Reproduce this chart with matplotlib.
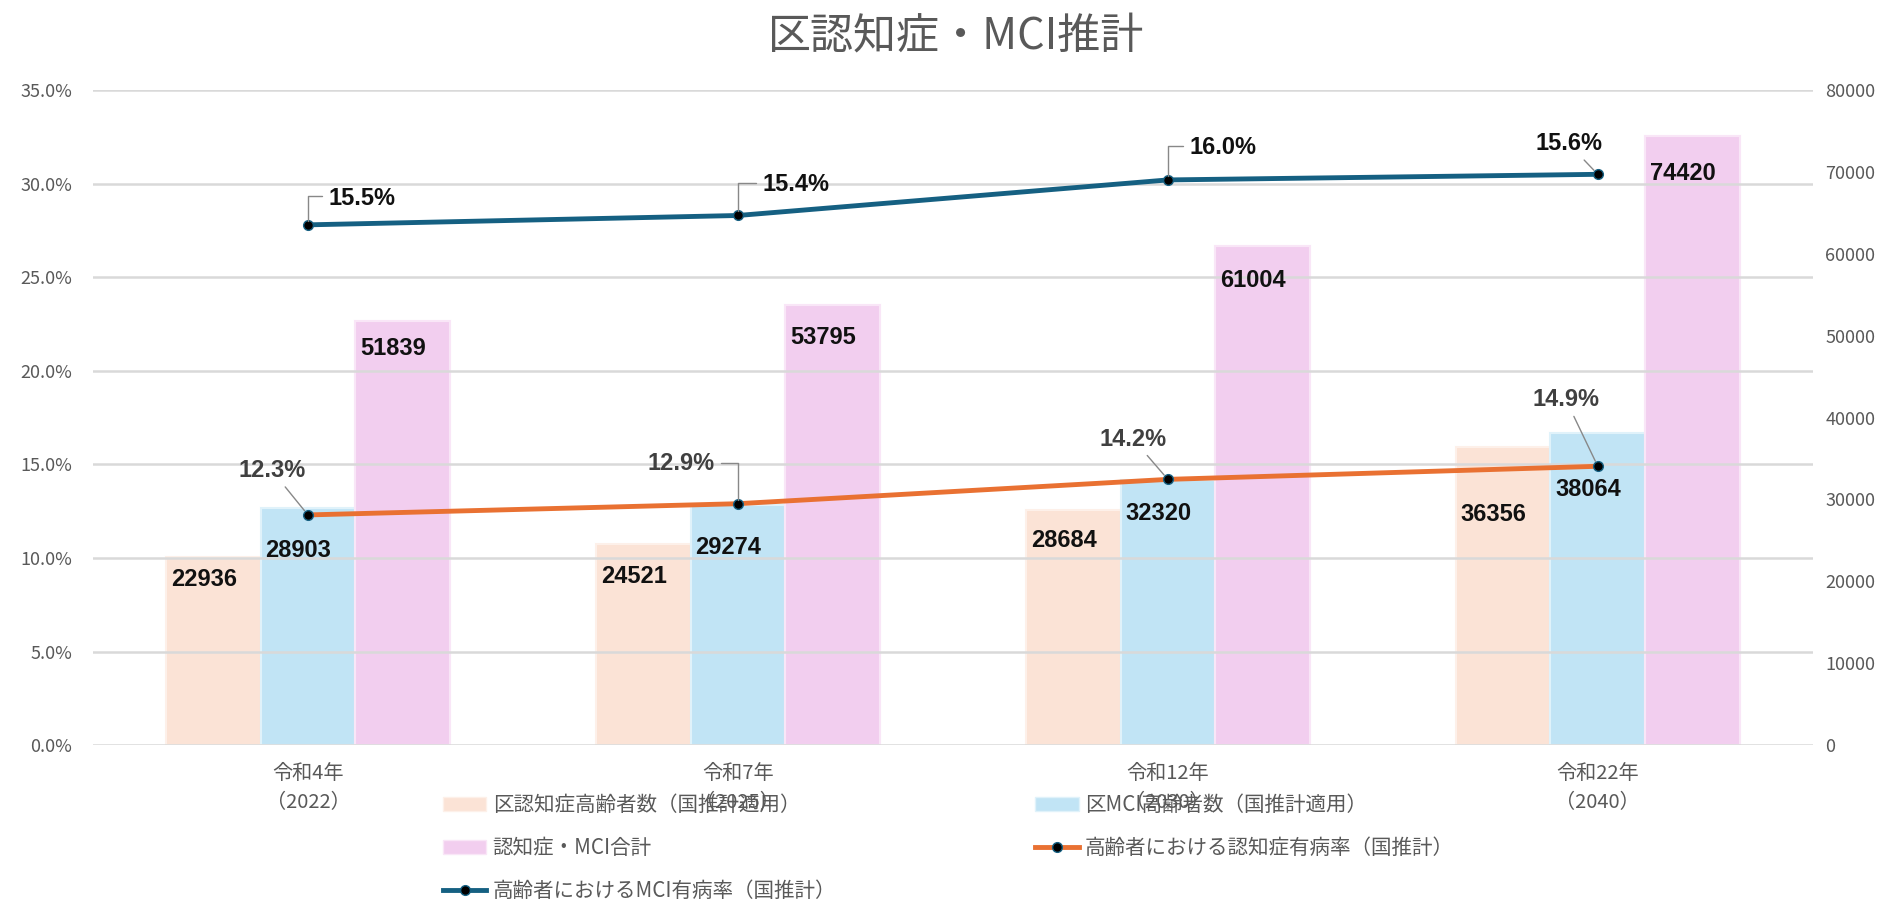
import matplotlib
matplotlib.use("Agg")
import matplotlib.pyplot as plt
from matplotlib.lines import Line2D
from matplotlib.patches import Patch
import numpy as np

plt.rcParams['font.family'] = ['Noto Sans CJK JP', 'DejaVu Sans']

# データ
categories = ["令和4年\n（2022）", "令和7年\n（2025）", "令和12年\n（2030）", "令和22年\n（2040）"]
dementia_count = [22936, 24521, 28684, 36356]
mci_count = [28903, 29274, 32320, 38064]
total_count = [51839, 53795, 61004, 74420]
dementia_rate = [12.3, 12.9, 14.2, 14.9]
mci_rate = [15.5, 15.4, 16.0, 15.6]

series_names = [
    "区認知症高齢者数（国推計適用）",
    "区MCI高齢者数（国推計適用）",
    "認知症・MCI合計",
    "高齢者における認知症有病率（国推計）",
    "高齢者におけるMCI有病率（国推計）",
]

c_peach = '#FBE3D6'
c_lblue = '#C1E4F5'
c_pink = '#F2CEEF'
c_orange = '#E97132'
c_navy = '#156082'
gray = '#595959'

fig = plt.figure(figsize=(18.94, 9.01), dpi=100)
ax = fig.add_axes([0.0491, 0.173, 0.908, 0.727])
axb = ax.twinx()
ax.set_zorder(2)
axb.set_zorder(1)
ax.patch.set_visible(False)

x = np.arange(len(categories))
w = 0.22

b1 = axb.bar(x - w, dementia_count, w, color=c_peach, edgecolor='#FDF0E9', linewidth=1.5)
b2 = axb.bar(x, mci_count, w, color=c_lblue, edgecolor='#E0F2FA', linewidth=1.5)
b3 = axb.bar(x + w, total_count, w, color=c_pink, edgecolor='#F9E6F7', linewidth=1.5)

# 折れ線（MCIは積み上げ）
mci_stack = np.array(dementia_rate) + np.array(mci_rate)
ax.plot(x, dementia_rate, color=c_orange, lw=3.5, marker='o', ms=7,
        mfc='black', mec=c_navy, mew=1, zorder=5)
ax.plot(x, mci_stack, color=c_navy, lw=3.5, marker='o', ms=7,
        mfc='black', mec=c_navy, mew=1, zorder=5)

# 棒グラフのラベル（線より前面）、縦位置のずれ（pt）
bar_label_dy = [[-16, -23, -22, -48], [-30, -30, -24, -40], [-20, -24, -25, -27]]
for bars, vals, dys in zip([b1, b2, b3], [dementia_count, mci_count, total_count], bar_label_dy):
    for rect, v, dy in zip(bars, vals, dys):
        ax.annotate(f"{v}", (rect.get_x() + rect.get_width() / 2, v),
                    xycoords=axb.transData,
                    xytext=(-7, dy), textcoords='offset points',
                    ha='center', va='center', fontsize=17, fontweight='bold',
                    family='Liberation Sans', color='#111111', zorder=7)

# ラベル位置（offset points）
orange_off = [(-26, 32), (-41, 29), (-25, 29), (-23, 48)]
orange_style = ['straight', 'right', 'straight', 'straight']
navy_off = [(39, 19), (42, 22), (40, 23), (-21, 22)]
navy_style = ['left', 'left', 'left', 'straight']


def label_line(xs, ys, vals, offs, styles, color):
    for xi, yi, v, off, st in zip(xs, ys, vals, offs, styles):
        if st == 'left':
            ap = dict(arrowstyle='-', color='#888888', lw=1,
                      connectionstyle='angle,angleA=180,angleB=90,rad=0',
                      relpos=(0, 0.6), shrinkA=3, shrinkB=3)
        elif st == 'right':
            ap = dict(arrowstyle='-', color='#888888', lw=1,
                      connectionstyle='angle,angleA=0,angleB=90,rad=0',
                      relpos=(1, 0.5), shrinkA=3, shrinkB=3)
        else:
            ap = dict(arrowstyle='-', color='#888888', lw=1, shrinkA=2, shrinkB=4)
        ax.annotate(f"{v:.1f}%", (xi, yi), xytext=off, textcoords='offset points',
                    ha='center', va='center', fontsize=17, fontweight='bold',
                    family='Liberation Sans', color=color, arrowprops=ap, zorder=6)


label_line(x, dementia_rate, dementia_rate, orange_off, orange_style, '#404040')
label_line(x, mci_stack, mci_rate, navy_off, navy_style, '#111111')

# 軸
ax.set_xlim(-0.5, 3.5)
ax.set_ylim(0, 35)
ax.set_yticks(np.arange(0, 36, 5))
ax.set_yticklabels([f"{t:.1f}%" for t in np.arange(0, 36, 5)])
axb.set_ylim(0, 80000)
axb.set_yticks(np.arange(0, 80001, 10000))
ax.grid(axis='y', color='#D9D9D9', lw=1.8)
ax.set_axisbelow(True)
axb.set_axisbelow(True)
for a in (ax, axb):
    for s in a.spines.values():
        s.set_visible(False)
    a.tick_params(length=0, colors=gray, labelsize=13)
ax.tick_params(axis='y', pad=15)
axb.tick_params(axis='y', pad=9)
ax.set_xticks(x)
ax.set_xticklabels(categories, fontsize=14.5, color=gray, linespacing=1.5)
ax.tick_params(axis='x', pad=13)

fig.text(0.505, 0.958, "区認知症・MCI推計", ha='center', va='center',
         fontsize=31, color=gray)

handles = [
    Patch(facecolor=c_peach, edgecolor='#FDF0E9'),
    Patch(facecolor=c_pink, edgecolor='#F9E6F7'),
    Line2D([], [], color=c_navy, lw=3.5, marker='o', ms=7, mfc='black', mec=c_navy),
    Patch(facecolor=c_lblue, edgecolor='#E0F2FA'),
    Line2D([], [], color=c_orange, lw=3.5, marker='o', ms=7, mfc='black', mec=c_navy),
]
labels = [series_names[0], series_names[2], series_names[4], series_names[1], series_names[3]]
leg = fig.legend(handles, labels, ncol=2, loc='upper left', bbox_to_anchor=(0.2297, 0.128),
                 frameon=False, fontsize=14.8, labelcolor=gray, columnspacing=9.7,
                 labelspacing=1.03, handlelength=2.1, handletextpad=0.3,
                 borderaxespad=0)

fig.savefig("out.png", dpi=100)
